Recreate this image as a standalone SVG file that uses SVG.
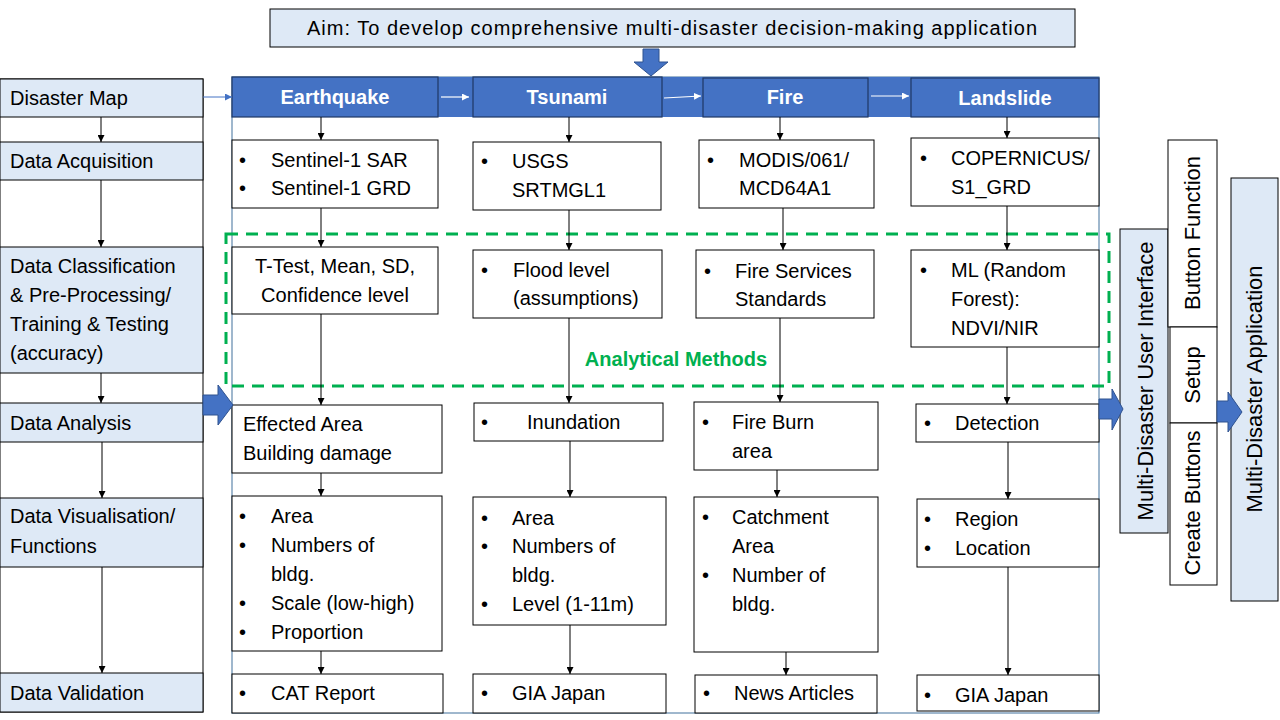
<svg xmlns="http://www.w3.org/2000/svg" width="1280" height="720" viewBox="0 0 1280 720">
<defs>
<style>
text{font-family:"Liberation Sans",Arial,sans-serif;font-size:20px;fill:#000}
.hd{font-weight:bold;fill:#fff;text-anchor:middle}
.mid{text-anchor:middle}
.rot{text-anchor:middle;font-size:22px}
.box{fill:#fff;stroke:#000;stroke-width:1}
.lb{fill:#dee9f6;stroke:#000;stroke-width:1}
.hb{fill:#4472c4;stroke:#1f3864;stroke-width:1.2}
.con{stroke:#000;stroke-width:1;fill:none}
.blk{fill:#4472c4;stroke:#2f528f;stroke-width:1}
</style>
<marker id="ah" viewBox="0 0 10 10" refX="10" refY="5" markerWidth="7" markerHeight="7" markerUnits="userSpaceOnUse" orient="auto"><path d="M0,0 L10,5 L0,10 z" fill="#000"/></marker>
<marker id="aw" viewBox="0 0 10 10" refX="10" refY="5" markerWidth="7" markerHeight="7" markerUnits="userSpaceOnUse" orient="auto"><path d="M0,0 L10,5 L0,10 z" fill="#fff"/></marker>
<marker id="ab" viewBox="0 0 10 10" refX="10" refY="5" markerWidth="7" markerHeight="7" markerUnits="userSpaceOnUse" orient="auto"><path d="M0,0 L10,5 L0,10 z" fill="#4472c4"/></marker>
</defs>
<rect width="1280" height="720" fill="#fff"/>

<g id="aim">
<rect x="270" y="9" width="805" height="38" class="lb" stroke="#404040"/>
<text x="672" y="35" class="mid" textLength="730">Aim: To develop comprehensive multi-disaster decision-making application</text>
</g>

<g id="container">
<rect x="232" y="77" width="867" height="636" fill="#fff" stroke="#41719c" stroke-width="1"/>
<rect x="232" y="77" width="867" height="40" fill="#4472c4"/>
</g>

<g id="left-column">
<rect x="0" y="79" width="203" height="633" class="box"/>
<g id="l-map"><rect x="0" y="79" width="203" height="38" class="lb"/><text x="10" y="105">Disaster Map</text></g>
<g id="l-acq"><rect x="0" y="142" width="203" height="38" class="lb"/><text x="10" y="168">Data Acquisition</text></g>
<g id="l-class"><rect x="0" y="247" width="203" height="126" class="lb"/>
<text x="10" y="273">Data Classification</text><text x="10" y="302">&amp; Pre-Processing/</text><text x="10" y="331">Training &amp; Testing</text><text x="10" y="360">(accuracy)</text></g>
<g id="l-ana"><rect x="0" y="403" width="203" height="39" class="lb"/><text x="10" y="430">Data Analysis</text></g>
<g id="l-vis"><rect x="0" y="498" width="203" height="69" class="lb"/><text x="10" y="523">Data Visualisation/</text><text x="10" y="553">Functions</text></g>
<g id="l-val"><rect x="0" y="673" width="203" height="39" class="lb"/><text x="10" y="700">Data Validation</text></g>
</g>

<g id="headers">
<g id="h-eq"><rect x="232" y="77" width="206" height="40" class="hb"/><text x="335" y="104" class="hd">Earthquake</text></g>
<g id="h-ts"><rect x="473" y="77" width="189" height="40" class="hb"/><text x="567" y="104" class="hd">Tsunami</text></g>
<g id="h-fi"><rect x="703" y="78" width="165" height="39" class="hb"/><text x="785" y="104" class="hd">Fire</text></g>
<g id="h-ls"><rect x="911" y="78" width="188" height="39" class="hb"/><text x="1005" y="105" class="hd">Landslide</text></g>
</g>

<g id="earthquake">
<g id="eq1"><rect x="232" y="140" width="206" height="68" class="box"/><text x="239" y="167">•</text><text x="271" y="167">Sentinel-1 SAR</text><text x="239" y="195">•</text><text x="271" y="195">Sentinel-1 GRD</text></g>
<g id="eq2"><rect x="232" y="247" width="206" height="67" class="box"/><text x="335" y="273" class="mid">T-Test, Mean, SD,</text><text x="335" y="302" class="mid">Confidence level</text></g>
<g id="eq3"><rect x="232" y="405" width="210" height="68" class="box"/><text x="243" y="431">Effected Area</text><text x="243" y="460">Building damage</text></g>
<g id="eq4"><rect x="232" y="496" width="210" height="155" class="box"/>
<text x="239" y="523">•</text><text x="271" y="523">Area</text>
<text x="239" y="552">•</text><text x="271" y="552">Numbers of</text>
<text x="271" y="581">bldg.</text>
<text x="239" y="610">•</text><text x="271" y="610">Scale (low-high)</text>
<text x="239" y="639">•</text><text x="271" y="639">Proportion</text></g>
<g id="eq5"><rect x="232" y="674" width="211" height="39" class="box"/><text x="239" y="700">•</text><text x="271" y="700">CAT Report</text></g>
</g>

<g id="tsunami">
<g id="ts1"><rect x="473" y="142" width="188" height="68" class="box"/><text x="481" y="168">•</text><text x="512" y="168">USGS</text><text x="512" y="197">SRTMGL1</text></g>
<g id="ts2"><rect x="473" y="250" width="189" height="68" class="box"/><text x="481" y="277">•</text><text x="513" y="277">Flood level</text><text x="513" y="305">(assumptions)</text></g>
<g id="ts3"><rect x="474" y="403" width="189" height="38" class="box"/><text x="481" y="429">•</text><text x="527" y="429">Inundation</text></g>
<g id="ts4"><rect x="473" y="497" width="193" height="128" class="box"/>
<text x="481" y="525">•</text><text x="512" y="525">Area</text>
<text x="481" y="553">•</text><text x="512" y="553">Numbers of</text>
<text x="512" y="582">bldg.</text>
<text x="481" y="611">•</text><text x="512" y="611">Level (1-11m)</text></g>
<g id="ts5"><rect x="473" y="674" width="193" height="39" class="box"/><text x="481" y="700">•</text><text x="512" y="700">GIA Japan</text></g>
</g>

<g id="fire">
<g id="fi1"><rect x="699" y="140" width="175" height="68" class="box"/><text x="707" y="167">•</text><text x="739" y="167">MODIS/061/</text><text x="739" y="195">MCD64A1</text></g>
<g id="fi2"><rect x="696" y="250" width="178" height="68" class="box"/><text x="704" y="278">•</text><text x="735" y="278">Fire Services</text><text x="735" y="306">Standards</text></g>
<g id="fi3"><rect x="694" y="402" width="184" height="68" class="box"/><text x="702" y="429">•</text><text x="732" y="429">Fire Burn</text><text x="732" y="458">area</text></g>
<g id="fi4"><rect x="694" y="497" width="184" height="155" class="box"/>
<text x="702" y="524">•</text><text x="732" y="524">Catchment</text>
<text x="732" y="553">Area</text>
<text x="702" y="582">•</text><text x="732" y="582">Number of</text>
<text x="732" y="611">bldg.</text></g>
<g id="fi5"><rect x="695" y="675" width="182" height="38" class="box"/><text x="703" y="700">•</text><text x="734" y="700">News Articles</text></g>
</g>

<g id="landslide">
<g id="ls1"><rect x="911" y="138" width="188" height="68" class="box"/><text x="920" y="165">•</text><text x="951" y="165">COPERNICUS/</text><text x="951" y="194">S1_GRD</text></g>
<g id="ls2"><rect x="911" y="250" width="188" height="97" class="box"/><text x="920" y="277">•</text><text x="951" y="277">ML (Random</text><text x="951" y="306">Forest):</text><text x="951" y="335">NDVI/NIR</text></g>
<g id="ls3"><rect x="916" y="404" width="183" height="38" class="box"/><text x="924" y="430">•</text><text x="955" y="430">Detection</text></g>
<g id="ls4"><rect x="917" y="499" width="182" height="68" class="box"/><text x="924" y="526">•</text><text x="955" y="526">Region</text><text x="924" y="555">•</text><text x="955" y="555">Location</text></g>
<g id="ls5"><rect x="917" y="675" width="182" height="36" class="box"/><text x="924" y="702">•</text><text x="955" y="702">GIA Japan</text></g>
</g>

<g id="analytical-methods">
<rect x="226" y="234" width="883" height="152" fill="none" stroke="#00b050" stroke-width="3" stroke-dasharray="12,8"/>
<text x="676" y="366" class="mid" font-weight="bold" style="fill:#00b050">Analytical Methods</text>
</g>

<g id="ui">
<g id="ui-main"><rect x="1120" y="229" width="48" height="304" class="lb"/><text transform="translate(1153,381) rotate(-90)" class="rot">Multi-Disaster User Interface</text></g>
<g id="ui-btnfn"><rect x="1168" y="140" width="49" height="187" class="box"/><text transform="translate(1200,233) rotate(-90)" class="rot">Button Function</text></g>
<g id="ui-setup"><rect x="1170" y="327" width="47" height="96" class="box"/><text transform="translate(1200,375) rotate(-90)" class="rot">Setup</text></g>
<g id="ui-create"><rect x="1170" y="423" width="47" height="162" class="box"/><text transform="translate(1200,503) rotate(-90)" class="rot" textLength="145">Create Buttons</text></g>
</g>

<g id="application"><rect x="1231" y="178" width="47" height="423" class="lb"/><text transform="translate(1262,389) rotate(-90)" class="rot">Multi-Disaster Application</text></g>

<g id="connectors">
<path class="blk" d="M643,49 H659 V62 H668 L651,76 L634,62 H643 Z"/>
<path class="blk" d="M203,395 H218 V385 L233,405 L218,425 V415 H203 Z"/>
<path class="blk" d="M1099,399 H1112 V389 L1123,409 L1112,430 V419 H1099 Z"/>
<path class="blk" d="M1217,401 H1228 V392 L1242,412 L1228,432 V422 H1217 Z"/>
<line x1="203" y1="97" x2="232" y2="97" stroke="#4472c4" stroke-width="1" marker-end="url(#ab)"/>
<line x1="441" y1="97" x2="469" y2="97" stroke="#fff" stroke-width="1.2" marker-end="url(#aw)"/>
<line x1="664" y1="98" x2="701" y2="96" stroke="#fff" stroke-width="1.2" marker-end="url(#aw)"/>
<line x1="871" y1="96" x2="909" y2="96" stroke="#fff" stroke-width="1.2" marker-end="url(#aw)"/>
<line class="con" x1="101" y1="117" x2="101" y2="142" marker-end="url(#ah)"/>
<line class="con" x1="101" y1="180" x2="101" y2="247" marker-end="url(#ah)"/>
<line class="con" x1="101" y1="373" x2="101" y2="403" marker-end="url(#ah)"/>
<line class="con" x1="102" y1="442" x2="102" y2="498" marker-end="url(#ah)"/>
<line class="con" x1="102" y1="567" x2="102" y2="673" marker-end="url(#ah)"/>
<line class="con" x1="321" y1="117" x2="321" y2="140" marker-end="url(#ah)"/>
<line class="con" x1="321" y1="208" x2="321" y2="247" marker-end="url(#ah)"/>
<line class="con" x1="321" y1="314" x2="321" y2="405" marker-end="url(#ah)"/>
<line class="con" x1="321" y1="473" x2="321" y2="496" marker-end="url(#ah)"/>
<line class="con" x1="321" y1="651" x2="321" y2="674" marker-end="url(#ah)"/>
<line class="con" x1="569" y1="117" x2="569" y2="142" marker-end="url(#ah)"/>
<line class="con" x1="569" y1="210" x2="569" y2="250" marker-end="url(#ah)"/>
<line class="con" x1="569" y1="318" x2="569" y2="403" marker-end="url(#ah)"/>
<line class="con" x1="570" y1="441" x2="570" y2="497" marker-end="url(#ah)"/>
<line class="con" x1="570" y1="625" x2="570" y2="674" marker-end="url(#ah)"/>
<line class="con" x1="780" y1="117" x2="780" y2="140" marker-end="url(#ah)"/>
<line class="con" x1="783" y1="208" x2="783" y2="250" marker-end="url(#ah)"/>
<line class="con" x1="780" y1="318" x2="780" y2="402" marker-end="url(#ah)"/>
<line class="con" x1="777" y1="470" x2="777" y2="497" marker-end="url(#ah)"/>
<line class="con" x1="786" y1="652" x2="786" y2="675" marker-end="url(#ah)"/>
<line class="con" x1="1007" y1="117" x2="1007" y2="138" marker-end="url(#ah)"/>
<line class="con" x1="1007" y1="206" x2="1007" y2="250" marker-end="url(#ah)"/>
<line class="con" x1="1007" y1="347" x2="1007" y2="404" marker-end="url(#ah)"/>
<line class="con" x1="1008" y1="442" x2="1008" y2="499" marker-end="url(#ah)"/>
<line class="con" x1="1008" y1="567" x2="1008" y2="675" marker-end="url(#ah)"/>
</g>
</svg>
